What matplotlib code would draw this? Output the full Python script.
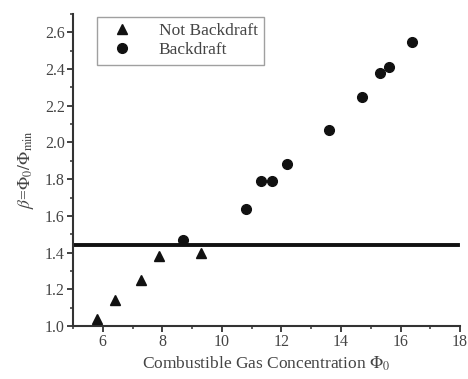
import matplotlib
matplotlib.use("Agg")
import matplotlib.pyplot as plt
from matplotlib.ticker import MultipleLocator

plt.rcParams['font.family'] = ['Liberation Serif', 'DejaVu Serif']
plt.rcParams['mathtext.fontset'] = 'stix'

# not backdraft runs
nb_x = [5.8, 6.4, 7.3, 7.9, 9.3]
nb_y = [1.04, 1.14, 1.25, 1.38, 1.40]

# backdraft runs
bd_x = [8.7, 10.8, 11.3, 11.7, 12.2, 13.6, 14.7, 15.3, 15.6, 16.4]
bd_y = [1.47, 1.64, 1.79, 1.79, 1.88, 2.07, 2.25, 2.38, 2.41, 2.55]

threshold = 1.44

fig = plt.figure(figsize=(4.68, 3.79), dpi=100)
ax = fig.add_axes([0.156, 0.14, 0.827, 0.823])

txt = '#444444'
ax.plot(nb_x, nb_y, '^', color='#111111', ms=6.5, label='Not Backdraft', zorder=3)
ax.plot(bd_x, bd_y, 'o', color='#111111', ms=7, label='Backdraft', zorder=3)
ax.axhline(threshold, xmin=0, xmax=0.995, color='#111111', lw=2.8)

ax.set_xlim(5, 18)
ax.set_ylim(1.0, 2.7)
ax.xaxis.set_major_locator(MultipleLocator(2))
ax.xaxis.set_minor_locator(MultipleLocator(1))
ax.yaxis.set_major_locator(MultipleLocator(0.2))
ax.yaxis.set_minor_locator(MultipleLocator(0.1))
ax.set_xticks([6, 8, 10, 12, 14, 16, 18])
ax.yaxis.set_major_formatter(plt.FuncFormatter(lambda v, p: '%.1f' % v))

for s in ['top', 'right']:
    ax.spines[s].set_visible(False)
for s in ['left', 'bottom']:
    ax.spines[s].set_linewidth(1.5)
    ax.spines[s].set_color('#333333')

ax.tick_params(which='major', direction='out', length=4, width=1.3, colors='#333333',
               labelcolor=txt, labelsize=11.5, pad=2)
ax.tick_params(which='minor', direction='out', length=2.5, width=1.1, colors='#333333')

ax.set_xlabel(r'Combustible Gas Concentration $\Phi_0$', color=txt, fontsize=12.5, labelpad=3)
ax.set_ylabel(r'$\beta$=$\Phi_0/\Phi_{\rm min}$', color=txt, fontsize=12.5, labelpad=6)

leg = ax.legend(loc='upper left', bbox_to_anchor=(0.055, 1.0), fancybox=False,
                edgecolor='#888888', fontsize=12.5, handletextpad=1.0, borderpad=0.35,
                labelspacing=0.2, borderaxespad=0.15, handlelength=2.2)
for t in leg.get_texts():
    t.set_color(txt)
leg.get_frame().set_linewidth(1.0)

fig.savefig('out.png', dpi=100)
